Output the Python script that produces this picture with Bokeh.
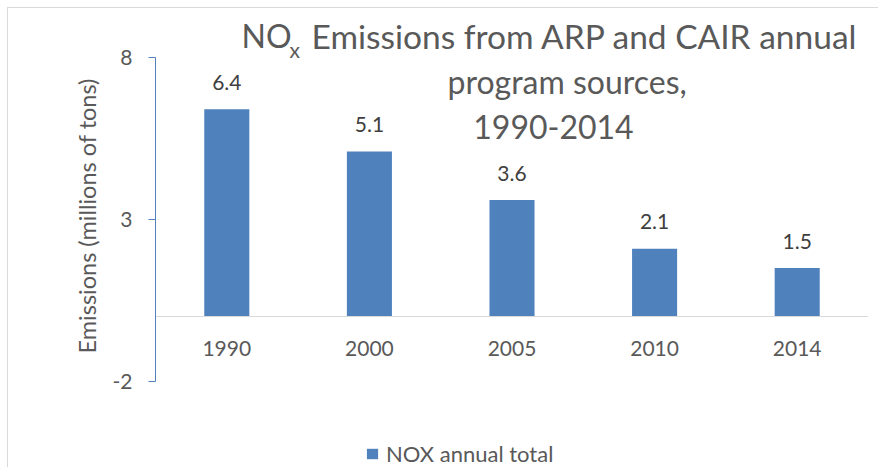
from bokeh.plotting import figure
from bokeh.models import (Range1d, FactorRange, FixedTicker, Label, Legend,
                          LegendItem, ColumnDataSource, Title)
from bokeh.core.properties import value
from bokeh.embed import file_html
from bokeh.resources import INLINE

# ---- data ----
years = ["1990", "2000", "2005", "2010", "2014"]
nox = [6.4, 5.1, 3.6, 2.1, 1.5]
bar_labels = ["6.4", "5.1", "3.6", "2.1", "1.5"]
y_ticks = [-2, 3, 8]
y_tick_text = {-2: "-2", 3: "3", 8: "8"}
title_main = "NO"
title_sub = "x"
title_rest = "Emissions from ARP and CAIR annual"
title_line2 = "program sources,"
title_line3 = "1990-2014"
y_title = "Emissions (millions of tons)"
series_name = "NOX annual total"

FONT = "Lato"
TEXT = "#595959"
DARK = "#404040"
BLUE = "#4F81BD"

src = ColumnDataSource(dict(year=years, nox=nox, label=bar_labels))

# y range chosen so that 8 and -2 land where the reference axis ends
p = figure(x_range=FactorRange(*years), y_range=Range1d(-4.685, 9.512),
           width=871, height=460, output_backend="svg", toolbar_location=None,
           min_border_left=147, min_border_top=0, min_border_bottom=0,
           min_border_right=11)
p.styles = {"margin-left": "7px", "margin-top": "7px",
            "border-left": "1px solid #D9D9D9", "border-top": "1px solid #D9D9D9"}
p.outline_line_color = None
p.xgrid.visible = False
p.ygrid.visible = False
p.background_fill_color = "white"
p.border_fill_color = "white"

bars = p.vbar(x="year", top="nox", width=0.316, source=src,
              fill_color=BLUE, line_color=None)

p.text(x="year", y="nox", text="label", source=src, text_align="center",
       text_baseline="alphabetic", y_offset=-27, text_font=value(FONT),
       text_font_size="21px", text_color=DARK)

# x axis crossing at zero
xa = p.xaxis[0]
xa.fixed_location = 0
xa.axis_line_color = "#D9D9D9"
xa.major_tick_line_color = None
xa.minor_tick_line_color = None
xa.major_tick_in = 0
xa.major_tick_out = 0
xa.major_label_standoff = 24
xa.major_label_text_font = FONT
xa.major_label_text_font_size = "21px"
xa.major_label_text_color = TEXT

ya = p.yaxis[0]
ya.ticker = FixedTicker(ticks=y_ticks)
ya.major_label_overrides = y_tick_text
ya.bounds = (y_ticks[0], y_ticks[-1])
ya.axis_line_color = BLUE
ya.major_tick_line_color = BLUE
ya.major_tick_in = 0
ya.major_tick_out = 7
ya.minor_tick_line_color = None
ya.major_label_standoff = 16
ya.major_label_text_font = FONT
ya.major_label_text_font_size = "21px"
ya.major_label_text_color = TEXT

# y-axis caption, placed along the -2..8 span of the axis
p.add_layout(Title(text=y_title, align="left", offset=115, standoff=18,
                   text_font=FONT, text_font_size="23.5px",
                   text_font_style="normal", text_color=TEXT), "left")

# title (NO with subscript x), overlapping the plot area as in the reference
tkw = dict(text_font=FONT, text_color=TEXT, text_baseline="alphabetic")
p.add_layout(Label(x=0.603, y=8.678, text=title_main, text_align="left",
                   text_font_size="32px", **tkw))
p.add_layout(Label(x=0.940, y=8.24, text=title_sub, text_align="left",
                   text_font_size="21px", **tkw))
p.add_layout(Label(x=1.094, y=8.678, text=title_rest, text_align="left",
                   text_font_size="33.5px", **tkw))
p.add_layout(Label(x=2.048, y=7.274, text=title_line2, text_align="left",
                   text_font_size="32px", **tkw))
p.add_layout(Label(x=2.791, y=5.870, text=title_line3, text_align="center",
                   text_font_size="32px", **tkw))

legend = Legend(items=[LegendItem(label=series_name, renderers=[bars])],
                location=(210, 1), orientation="horizontal",
                border_line_color=None, background_fill_alpha=0,
                padding=0, margin=0, glyph_width=14, glyph_height=13,
                label_standoff=7, label_text_font=FONT,
                label_text_font_size="22px", label_text_color=TEXT)
p.add_layout(legend)

open("out.html", "w").write(file_html(p, INLINE))
